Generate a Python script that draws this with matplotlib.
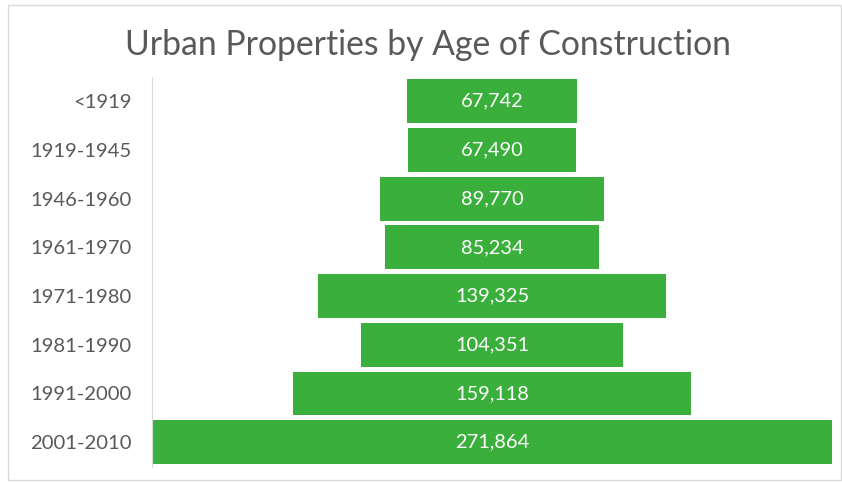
import matplotlib
matplotlib.use("Agg")
import matplotlib.pyplot as plt
from matplotlib.patches import Rectangle

categories = ["<1919", "1919-1945", "1946-1960", "1961-1970", "1971-1980", "1981-1990", "1991-2000", "2001-2010"]
values = [67742, 67490, 89770, 85234, 139325, 104351, 159118, 271864]

plt.rcParams['font.family'] = ['Lato', 'DejaVu Sans']

W, H = 842, 482
fig = plt.figure(figsize=(W/100, H/100), dpi=100)
fig.patch.set_facecolor('white')
fig.add_artist(Rectangle((8/W, 1 - 480/H), (841-8)/W, (480-5)/H, transform=fig.transFigure,
                         fill=False, edgecolor='#d9d9d9', linewidth=1))

ax = fig.add_axes([152/W, 1 - 466.5/H, (832-152)/W, (466.5-77)/H])
n = len(values)
ypos = list(range(n))
lefts = [-v/2 for v in values]
ax.barh(ypos, values, left=lefts, height=0.9, color='#3BAF3B', edgecolor='none')
vmax = max(values)
ax.set_xlim(-vmax/2, vmax/2)
ax.set_ylim(n - 0.5, -0.5)
ax.set_yticks(ypos)
ax.set_yticklabels(categories, color='#595959', fontsize=14.6)
ax.tick_params(axis='y', length=0, pad=14.5)
ax.set_xticks([])
for s in ['top', 'right', 'bottom']:
    ax.spines[s].set_visible(False)
ax.spines['left'].set_color('#d9d9d9')
for y, v in zip(ypos, values):
    ax.text(0, y, f"{v:,}", ha='center', va='center', color='white', fontsize=14.4)

fig.text(428/W, 1 - 55/H, "Urban Properties by Age of Construction", ha='center', va='baseline',
         fontsize=24.3, color='#595959')

fig.savefig("out.png", dpi=100)
